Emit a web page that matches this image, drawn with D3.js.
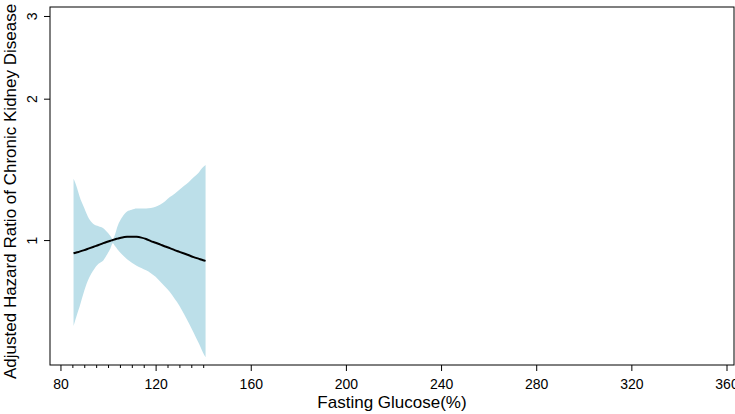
<!DOCTYPE html>
<html>
<head>
<meta charset="utf-8">
<script src="https://cdn.jsdelivr.net/npm/d3@7"></script>
<style>
  body { margin: 0; background: #fff; }
  svg { display: block; font-family: "Liberation Sans", Arial, sans-serif; }
</style>
</head>
<body>
<div id="chart"></div>
<script>
// Fasting glucose grid and the spline estimate with its 95% band
const glucose = [85.5, 87, 88, 90, 92, 94, 96, 98, 100, 101, 102, 103, 104, 106, 108, 110, 112, 114, 116, 118, 120, 122, 124, 126, 128, 130, 132, 134, 136, 138, 140, 141];
const hazard = [0.937, 0.942, 0.945, 0.952, 0.96, 0.968, 0.976, 0.985, 0.993, 0.997, 1.0, 1.004, 1.007, 1.013, 1.016, 1.017, 1.016, 1.012, 1.005, 0.995, 0.987, 0.978, 0.969, 0.961, 0.952, 0.944, 0.936, 0.928, 0.92, 0.913, 0.906, 0.903];
const upper = [1.35, 1.29, 1.24, 1.17, 1.11, 1.08, 1.07, 1.06, 1.035, 1.02, 1.005, 1.03, 1.07, 1.12, 1.15, 1.16, 1.167, 1.167, 1.168, 1.17, 1.178, 1.19, 1.21, 1.235, 1.255, 1.28, 1.305, 1.33, 1.36, 1.39, 1.43, 1.445];
const lower = [0.656, 0.695, 0.72, 0.78, 0.83, 0.865, 0.89, 0.905, 0.94, 0.96, 0.985, 0.97, 0.955, 0.93, 0.91, 0.895, 0.882, 0.872, 0.862, 0.85, 0.835, 0.815, 0.795, 0.775, 0.75, 0.725, 0.695, 0.665, 0.635, 0.605, 0.575, 0.563];

const xTicks = [80, 120, 160, 200, 240, 280, 320, 360];
const xMinorTicks = [85, 90, 95, 100, 105, 110, 115, 125, 130, 135, 140];
const yTicks = [1, 2, 3];

const w = 735, h = 414;
const plotLeft = 50, plotRight = 734, plotTop = 7, plotBottom = 365;

const svg = d3.select("#chart").append("svg")
    .attr("width", w)
    .attr("height", h);

const xScale = d3.scaleLinear()
    .domain([75.6, 363.15])
    .range([plotLeft, plotRight]);

const yScale = d3.scaleLog()
    .domain([0.542, 3.135])
    .range([plotBottom, plotTop]);

const rows = glucose.map((g, i) => ({ g: g, hr: hazard[i], lo: lower[i], hi: upper[i] }));

// Confidence band
const band = d3.area()
    .x((d) => xScale(d.g))
    .y0((d) => yScale(d.lo))
    .y1((d) => yScale(d.hi))
    .curve(d3.curveMonotoneX);

svg.append("path")
    .datum(rows)
    .attr("d", band)
    .attr("fill", "#bcdfe9");

// Estimate line
const line = d3.line()
    .x((d) => xScale(d.g))
    .y((d) => yScale(d.hr))
    .curve(d3.curveMonotoneX);

svg.append("path")
    .datum(rows)
    .attr("d", line)
    .attr("fill", "none")
    .attr("stroke", "#000")
    .attr("stroke-width", 2);

// Frame
svg.append("rect")
    .attr("x", plotLeft)
    .attr("y", plotTop)
    .attr("width", plotRight - plotLeft)
    .attr("height", plotBottom - plotTop)
    .attr("fill", "none")
    .attr("stroke", "#000")
    .attr("stroke-width", 1);

// X axis
const xAxis = svg.append("g")
    .attr("transform", `translate(0, ${plotBottom})`)
    .call(d3.axisBottom(xScale).tickValues(xTicks).tickSize(6).tickPadding(8));
xAxis.select(".domain").remove();
xAxis.selectAll("text").attr("font-size", 14).attr("font-family", "Liberation Sans, Arial, sans-serif").attr("fill", "#000");

const xMinor = svg.append("g")
    .attr("transform", `translate(0, ${plotBottom})`)
    .call(d3.axisBottom(xScale).tickValues(xMinorTicks).tickSize(3).tickFormat(""));
xMinor.select(".domain").remove();

// Y axis, labels turned like the reference
const yAxis = svg.append("g")
    .attr("transform", `translate(${plotLeft}, 0)`)
    .call(d3.axisLeft(yScale).tickValues(yTicks).tickSize(6).tickFormat(d3.format("d")));
yAxis.select(".domain").remove();
yAxis.selectAll("text")
    .attr("font-size", 14)
    .attr("font-family", "Liberation Sans, Arial, sans-serif")
    .attr("fill", "#000")
    .attr("x", null)
    .attr("dy", null)
    .attr("text-anchor", "middle")
    .attr("transform", "translate(-13, 0) rotate(-90)");

// Axis titles
svg.append("text")
    .attr("x", (plotLeft + plotRight) / 2)
    .attr("y", 408)
    .attr("text-anchor", "middle")
    .attr("font-size", 17)
    .text("Fasting Glucose(%)");

svg.append("text")
    .attr("transform", "translate(16, 379) rotate(-90)")
    .attr("text-anchor", "start")
    .attr("font-size", 17)
    .text("Adjusted Hazard Ratio of Chronic Kidney Disease");
</script>
</body>
</html>
